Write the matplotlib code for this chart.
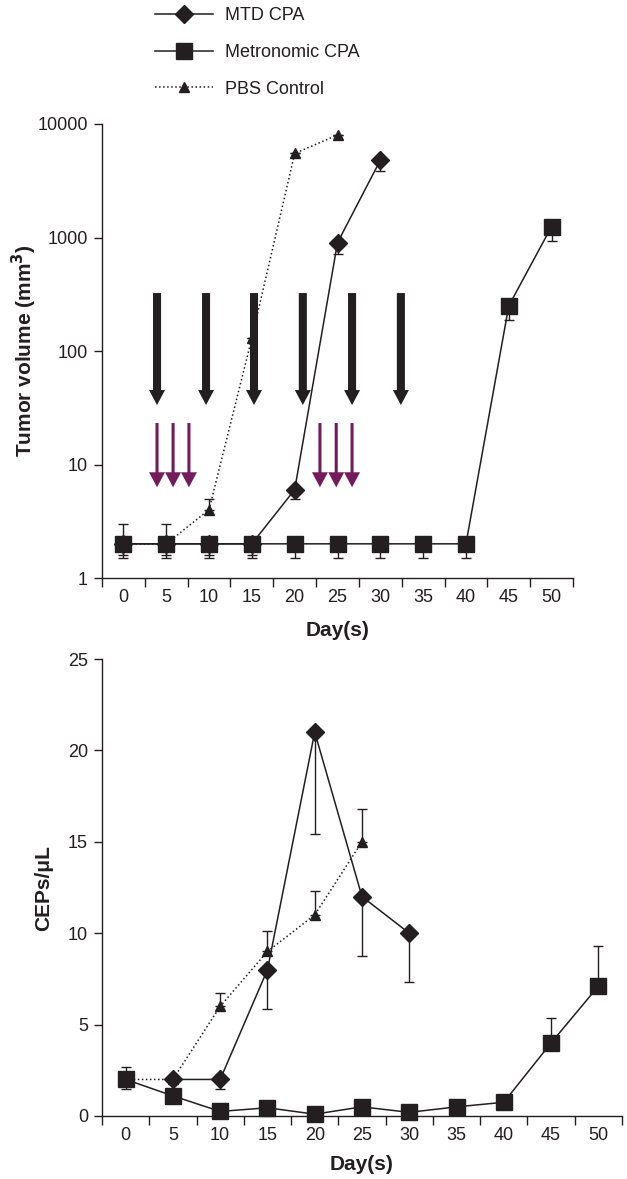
import numpy as np
import matplotlib
matplotlib.use("Agg")
import matplotlib.pyplot as plt
from matplotlib.lines import Line2D

nan = np.nan

DAYS = [0, 5, 10, 15, 20, 25, 30, 35, 40, 45, 50]

# tumor volume (mm^3), top panel
MTD_TV = [2, 2, 2, 2, 6, 900, 4800, nan, nan, nan, nan]
MTD_TV_LO = [0.4, 0.4, 0.4, 0.4, 1, 180, 950, 0, 0, 0, 0]
MTD_TV_HI = [1, 1, 0, 0, 0, 0, 0, 0, 0, 0, 0]
METRO_TV = [2, 2, 2, 2, 2, 2, 2, 2, 2, 250, 1250]
METRO_TV_LO = [0.5, 0.5, 0.5, 0.5, 0.5, 0.5, 0.5, 0.5, 0.5, 63, 320]
PBS_TV = [2, 2, 4, 130, 5500, 8000, nan, nan, nan, nan, nan]
PBS_TV_HI = [0, 0, 1, 0, 0, 0, 0, 0, 0, 0, 0]

# CEPs per uL, bottom panel
MTD_CEP = [nan, 2, 2, 8, 21, 12, 10, nan, nan, nan, nan]
MTD_CEP_LO = [0, 0, 0.5, 2.15, 5.6, 3.25, 2.67, 0, 0, 0, 0]
METRO_CEP = [2.0, 1.1, 0.25, 0.45, 0.1, 0.5, 0.2, 0.5, 0.75, 4.0, 7.1]
METRO_CEP_LO = [0.5, 0, 0, 0, 0, 0, 0, 0, 0, 0, 0]
METRO_CEP_HI = [0.7, 0, 0, 0, 0, 0, 0, 0, 0, 1.35, 2.2]
PBS_CEP = [2, 2, 6, 9, 11, 15, nan, nan, nan, nan, nan]
PBS_CEP_HI = [0, 0, 0.75, 1.1, 1.3, 1.8, 0, 0, 0, 0, 0]

# treatment arrows, positions along the category axis
BLACK_ARROW_X = [0.785, 1.93, 3.05, 4.19, 5.34, 6.48]
PURPLE_ARROW_X = [0.785, 1.16, 1.53, 4.59, 4.97, 5.34]

LABELS = ["MTD CPA", "Metronomic CPA", "PBS Control"]

INK = "#231f20"
PURPLE = "#741b5c"

plt.rcParams.update({
    "font.family": ["Liberation Sans", "DejaVu Sans"],
    "font.size": 13,
    "text.color": INK,
    "axes.edgecolor": INK,
    "xtick.color": INK,
    "ytick.color": INK,
    "axes.linewidth": 1.0,
})

W, H = 627, 1179
fig = plt.figure(figsize=(W / 100, H / 100), dpi=100)
ax1 = fig.add_axes([102 / W, 1 - 578 / H, 471 / W, 454 / H])
ax2 = fig.add_axes([102 / W, 1 - 1116 / H, 520 / W, 457 / H])

x = np.arange(len(DAYS))


def series(ax, y, lo, hi, marker, ms, ls, z):
    y = np.array(y, dtype=float)
    err = np.array([lo, hi], dtype=float)
    m = ~np.isnan(y)
    ax.errorbar(x[m], y[m], yerr=err[:, m], fmt="none", ecolor=INK,
                elinewidth=1.0, capsize=3.5, capthick=1.0, zorder=z)
    ax.plot(x, y, linestyle=ls, color=INK, lw=1.1, marker=marker, ms=ms,
            mfc=INK, mec=INK, zorder=z + 0.5)


zeros = [0] * len(DAYS)

# top panel
series(ax1, PBS_TV, zeros, PBS_TV_HI, "^", 6.5, ":", 3)
series(ax1, MTD_TV, MTD_TV_LO, MTD_TV_HI, "D", 9.5, "-", 4)
series(ax1, METRO_TV, METRO_TV_LO, zeros, "s", 12, "-", 5)

ax1.set_yscale("log")
ax1.set_ylim(1, 10000)
ax1.set_yticks([1, 10, 100, 1000, 10000])
ax1.set_yticklabels(["1", "10", "100", "1000", "10000"])
ax1.yaxis.set_minor_locator(matplotlib.ticker.NullLocator())

for xa in BLACK_ARROW_X:
    ax1.annotate("", xy=(xa, 33.4), xytext=(xa, 324),
                 arrowprops=dict(arrowstyle="simple,head_length=10.8,head_width=11.5,tail_width=5.8",
                                 color=INK, lw=0, shrinkA=0, shrinkB=0, mutation_scale=1),
                 zorder=6)
for xa in PURPLE_ARROW_X:
    ax1.annotate("", xy=(xa, 6.3), xytext=(xa, 23.2),
                 arrowprops=dict(arrowstyle="simple,head_length=10.8,head_width=11.5,tail_width=2.2",
                                 color=PURPLE, lw=0, shrinkA=0, shrinkB=0, mutation_scale=1),
                 zorder=6)

# bottom panel
series(ax2, PBS_CEP, zeros, PBS_CEP_HI, "^", 7, ":", 3)
series(ax2, MTD_CEP, MTD_CEP_LO, zeros, "D", 9, "-", 4)
series(ax2, METRO_CEP, METRO_CEP_LO, METRO_CEP_HI, "s", 12, "-", 5)

ax2.set_ylim(0, 25)
ax2.set_yticks([0, 5, 10, 15, 20, 25])

for ax in (ax1, ax2):
    ax.set_xlim(-0.5, len(DAYS) - 0.5)
    ax.spines["top"].set_visible(False)
    ax.spines["right"].set_visible(False)
    ax.spines["left"].set_zorder(10)
    ax.spines["bottom"].set_zorder(10)
    ax.set_xticks(np.arange(-0.5, len(DAYS)))
    ax.set_xticklabels([])
    ax.set_xticks(x, minor=True)
    ax.set_xticklabels([str(d) for d in DAYS], minor=True)
    ax.tick_params(axis="x", which="major", direction="out", length=6.5, width=1)
    ax.tick_params(axis="x", which="minor", length=0, pad=8, labelsize=13)
    ax.tick_params(axis="y", direction="out", length=6, width=1, pad=4, labelsize=13)

for a in ax1.get_children() + ax2.get_children():
    if hasattr(a, "set_clip_on"):
        a.set_clip_on(False)

fig.text(337.5 / W, 1 - 630 / H, "Day(s)", ha="center", va="center",
         fontsize=15, fontweight="bold")
fig.text(362 / W, 1 - 1165 / H, "Day(s)", ha="center", va="center",
         fontsize=15, fontweight="bold")
fig.text(24 / W, 1 - 351 / H, "Tumor volume (mm$\\mathbf{^3}$)", ha="center", va="center",
         rotation=90, fontsize=15, fontweight="bold")
fig.text(44 / W, 1 - 888 / H, "CEPs/\u03bcL", ha="center", va="center",
         rotation=90, fontsize=15, fontweight="bold")

handles = [
    Line2D([], [], color=INK, lw=1.1, marker="D", ms=9.5, mfc=INK, mec=INK),
    Line2D([], [], color=INK, lw=1.1, marker="s", ms=12, mfc=INK, mec=INK),
    Line2D([], [], color=INK, lw=1.1, ls=":", marker="^", ms=7, mfc=INK, mec=INK),
]
fig.legend(handles, LABELS, loc="upper left", bbox_to_anchor=(155 / W, 1 - 7 / H),
           frameon=False, borderpad=0, borderaxespad=0, handlelength=3.2,
           handletextpad=0.7, labelspacing=1.1, fontsize=13)

fig.savefig("out.png", dpi=100)
